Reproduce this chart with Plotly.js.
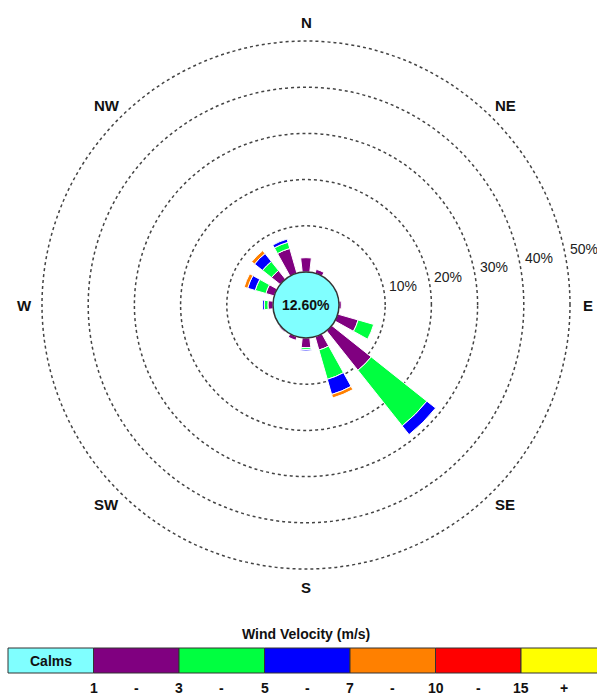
<!DOCTYPE html>
<html>
<head>
<meta charset="utf-8">
<script src="https://cdn.plot.ly/plotly-3.0.1.min.js"></script>
<style>html,body{margin:0;padding:0;background:#fff;}#chart{width:597px;height:695px;}</style>
</head>
<body>
<div id="chart"></div>
<script>
// ---- data ----
const directions = ['N','NNE','NE','ENE','E','ESE','SE','SSE','S','SSW','SW','WSW','W','WNW','NW','NNW'];
const speedBins = ['1 - 3','3 - 5','5 - 7','7 - 10','10 - 15','15 +'];
const binEdges = ['1','3','5','7','10','15','+'];
const freq1to3   = [3.1,0.9,0,0.2,0.5,4.6,10.9,3.0,2.1,0.8,0.3,0,1.1,1.9,2.4,5.6];
const freq3to5   = [0,0,0,0,0,3.5,15.4,6.6,0.4,0,0,0,0.8,2.4,2.5,1.4];
const freq5to7   = [0,0,0,0,0,0,2.4,3.4,0.3,0,0,0,0.4,1.7,2.2,0.7];
const freq7to10  = [0,0,0,0,0,0,0,0.8,0,0,0,0,0,0.8,0.8,0];
const freq10to15 = [0,0,0,0,0,0,0,0,0,0,0,0,0,0,0,0];
const freq15up   = [0,0,0,0,0,0,0,0,0,0,0,0,0,0,0,0];
const calmsPct = 12.60;
const ringTicks = [10,20,30,40,50];
const compassLabels = ['N','NE','E','SE','S','SW','W','NW'];

// ---- styles ----
const binColors = ['#800080','#00FF40','#0000FF','#FF8000','#FF0000','#FFFF00'];
const calmColor = '#80FFFF';
const FONT = 'Arial, "Liberation Sans", sans-serif';
const W = 597, H = 695;
const CX = 306, CY = 305;         // pixel centre of rose
const CALM_R = 33;                // calm circle radius (px)
const PX_PER_PCT = 4.62;
const RMAX = 50.5;
const R = CALM_R + RMAX * PX_PER_PCT;
const px = x => x / W;
const py = y => (H - y) / H;

const thetaOf = name => directions.indexOf(name) * 22.5;
const dirTheta = directions.map(thetaOf);
const series = [freq1to3, freq3to5, freq5to7, freq7to10, freq10to15, freq15up];

const traces = series.map((vals, i) => ({
  type: 'barpolar',
  r: vals,
  theta: dirTheta,
  width: 13,
  name: speedBins[i],
  marker: {color: binColors[i], line: {color: '#ffffff', width: 1}},
  hoverinfo: 'skip',
  showlegend: false
}));

const shapes = [];
const annotations = [];
const ann = (x, y, text, size, color) => annotations.push({
  xref: 'paper', yref: 'paper', x: px(x), y: py(y), text: text,
  showarrow: false, xanchor: 'center', yanchor: 'middle',
  font: {family: FONT, size: size || 14, color: color || '#111'}
});
// polar position helper (pixel coords for a value along a compass angle)
const polarPx = (pct, deg) => {
  const rr = CALM_R + pct * PX_PER_PCT, a = deg * Math.PI / 180;
  return [CX + rr * Math.sin(a), CY - rr * Math.cos(a)];
};

// ring labels
const RING_LABEL_OFFSET = 4.3, RING_LABEL_THETA = 78.7;
ringTicks.forEach(t => {
  const [x, y] = polarPx(t + RING_LABEL_OFFSET, RING_LABEL_THETA);
  ann(x, y, t + '%', 14, '#222');
});
// compass labels
const LABEL_PCT = (282 - CALM_R) / PX_PER_PCT;
compassLabels.forEach(s => {
  const [x, y] = polarPx(LABEL_PCT, thetaOf(s));
  ann(x, y, '<b>' + s + '</b>', 15);
});

// ---- legend (shapes + annotations) ----
const LEG_X0 = 8, LEG_W = 85.5, LEG_Y0 = 648, LEG_Y1 = 673;
const legColors = [calmColor].concat(binColors);
legColors.forEach((c, i) => shapes.push({
  type: 'rect', xref: 'paper', yref: 'paper',
  x0: px(LEG_X0 + i * LEG_W), x1: px(LEG_X0 + (i + 1) * LEG_W),
  y0: py(LEG_Y1), y1: py(LEG_Y0),
  fillcolor: c, line: {color: '#333', width: 1}, layer: 'above'
}));
// calm circle
shapes.push({
  type: 'circle', xref: 'paper', yref: 'paper',
  x0: px(CX - CALM_R), x1: px(CX + CALM_R),
  y0: py(CY + CALM_R), y1: py(CY - CALM_R),
  fillcolor: calmColor, line: {color: '#333', width: 1.5}, layer: 'above'
});

ann(CX, CY, '<b>' + calmsPct.toFixed(2) + '%</b>', 14);
ann(LEG_X0 + LEG_W / 2, (LEG_Y0 + LEG_Y1) / 2, '<b>Calms</b>', 14);
ann(306, 634, '<b>Wind Velocity (m/s)</b>', 14);
const LAB_Y = 688;
binEdges.forEach((e, k) => {
  if (e === '+') {
    ann(LEG_X0 + 6.5 * LEG_W, LAB_Y, '<b>+</b>', 14);
  } else {
    ann(LEG_X0 + (k + 1) * LEG_W, LAB_Y, '<b>' + e + '</b>', 14);
    if (k < binEdges.length - 2) ann(LEG_X0 + (k + 1.5) * LEG_W, LAB_Y, '<b>-</b>', 14);
  }
});

const layout = {
  width: W, height: H,
  margin: {l: 0, r: 0, t: 0, b: 0},
  paper_bgcolor: '#fff', plot_bgcolor: '#fff',
  showlegend: false,
  polar: {
    domain: {x: [px(CX - R), px(CX + R)], y: [py(CY + R), py(CY - R)]},
    hole: CALM_R / R,
    bgcolor: 'rgba(0,0,0,0)',
    barmode: 'stack',
    radialaxis: {
      range: [0, RMAX], tickvals: ringTicks, showticklabels: false, ticks: '',
      showline: false, showgrid: true, gridcolor: '#444', gridwidth: 1.5, griddash: 'dot'
    },
    angularaxis: {
      direction: 'clockwise', rotation: 90, thetaunit: 'degrees',
      showline: false, showgrid: false, showticklabels: false, ticks: ''
    }
  },
  shapes: shapes,
  annotations: annotations
};

Plotly.newPlot('chart', traces, layout, {staticPlot: true, displayModeBar: false});
</script>
</body>
</html>
